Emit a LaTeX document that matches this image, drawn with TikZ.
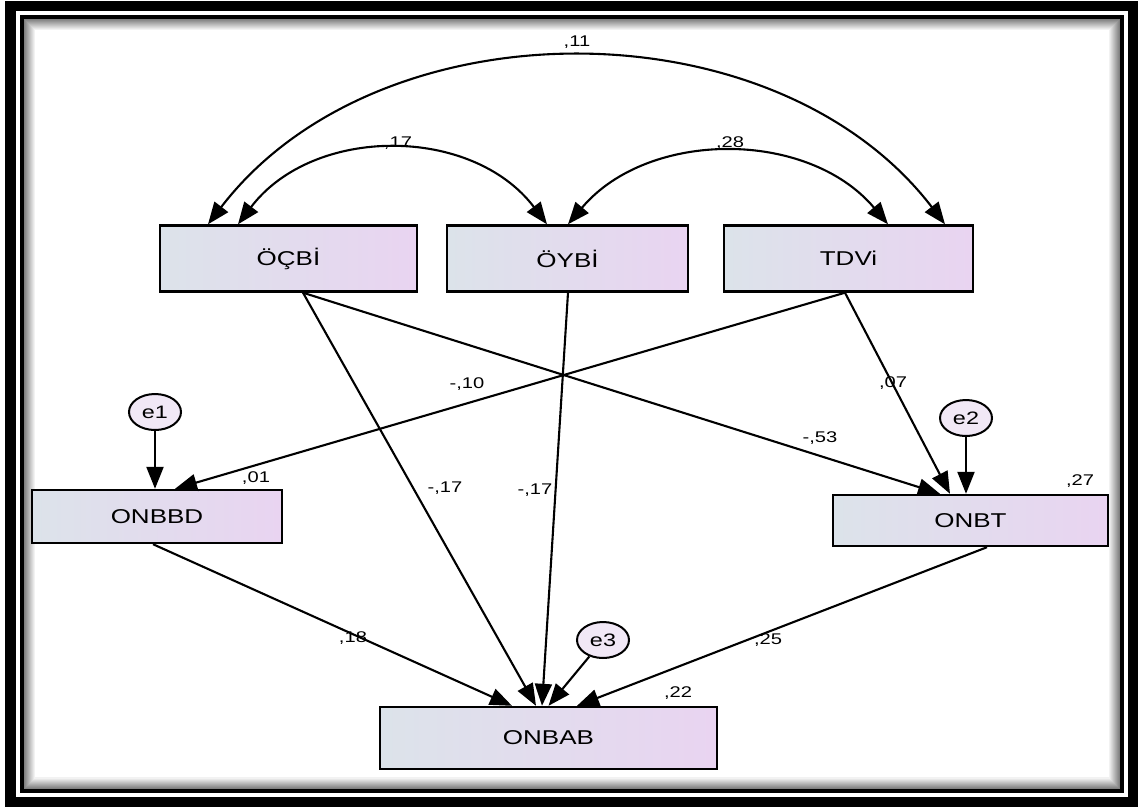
\documentclass[tikz,border=0pt]{standalone}
\usepackage{fontspec}
\usepackage{graphicx}
\setmainfont{Liberation Sans}
\newcommand{\widetxt}[1]{\scalebox{1.3}[1]{#1}}
\usetikzlibrary{arrows.meta,shapes.geometric}
\definecolor{boxL}{HTML}{DCE3EA}
\definecolor{boxR}{HTML}{E9D4F1}
\definecolor{errF}{HTML}{F1E8F6}
\begin{document}
\begin{tikzpicture}[x=1pt,y=-1pt,
  box/.style={draw=black, line width=2.4pt, left color=boxL, right color=boxR,
    font=\fontsize{20}{24}\selectfont, inner sep=0},
  err/.style={ellipse, draw=black, line width=2pt, fill=errF, minimum width=52,
    minimum height=36, inner sep=0, font=\fontsize{18}{21}\selectfont},
  lbl/.style={font=\fontsize{15.5}{18}\selectfont, inner sep=0},
  arr/.style={line width=2.1pt, -{Triangle[length=22pt,width=17pt]}},
  cov/.style={line width=2.1pt, {Triangle[length=22pt,width=17pt]}-{Triangle[length=22pt,width=17pt]}}]
\useasboundingbox (0,0) rectangle (1138,807);
\fill[white] (0,0) rectangle (1138,807);
% frame
\draw[black, line width=10.5pt] (10.5,6) rectangle (1133,802);
\draw[black, line width=4pt] (22,17) rectangle (1122,790.5);
\foreach \i in {0,...,10}{
  \pgfmathsetmacro\g{50-4.5*\i}
  \draw[black!\g, line width=1.1pt] (24.5+\i,19.5+\i) rectangle (1119.5-\i,788-\i);
}
% boxes
\node[box, minimum width=257, minimum height=66] (ocbi) at (288.5,258.5) {\widetxt{ÖÇBİ}};
\node[box, minimum width=241, minimum height=66] (oybi) at (567.5,258.5) {\widetxt{ÖYBİ}};
\node[box, minimum width=249, minimum height=66] (tdvi) at (848.5,258.5) {\widetxt{TDVi}};
\node[box, minimum width=250, minimum height=53] (onbbd) at (157,516.5) {\widetxt{ONBBD}};
\node[box, minimum width=275, minimum height=51] (onbt) at (970.5,520.5) {\widetxt{ONBT}};
\node[box, minimum width=337, minimum height=62] (onbab) at (548.5,738) {\widetxt{ONBAB}};
% error terms
\node[err] (e1) at (155,412) {\widetxt{e1}};
\node[err] (e2) at (966,418) {\widetxt{e2}};
\node[err] (e3) at (603,640) {\widetxt{e3}};
% covariances
\draw[cov] ([xshift=-80.5pt]ocbi.north) .. controls +(170,-222) and +(-170,-222) .. ([xshift=96.5pt]tdvi.north);
\draw[cov] ([xshift=-50.5pt]ocbi.north) .. controls +(75,-99) and +(-75,-99) .. ([xshift=-20.5pt]oybi.north);
\draw[cov] ([xshift=0.5pt]oybi.north) .. controls +(80,-95) and +(-80,-95) .. ([xshift=39.5pt]tdvi.north);
% regression paths
\draw[arr] ([xshift=14.5pt]ocbi.south) -- ([xshift=-12.5pt]onbab.north);
\draw[arr] ([xshift=14.5pt]ocbi.south) -- ([xshift=-30.5pt]onbt.north);
\draw[arr] ([xshift=0.5pt]oybi.south) -- ([xshift=-6.5pt]onbab.north);
\draw[arr] ([xshift=-3.5pt]tdvi.south) -- ([xshift=18pt]onbbd.north);
\draw[arr] ([xshift=-3.5pt]tdvi.south) -- ([xshift=-20.5pt]onbt.north);
\draw[arr] (e1) -- (e1 |- onbbd.north);
\draw[arr] (e2) -- (e2 |- onbt.north);
\draw[arr] (e3) -- ([xshift=0pt]onbab.north);
\draw[arr] ([xshift=-4pt]onbbd.south) -- ([xshift=-36.5pt]onbab.north);
\draw[arr] ([xshift=16.5pt]onbt.south) -- ([xshift=28.5pt]onbab.north);
% labels
\node[lbl] (l11) at (577,42) {\widetxt{,11}};
\node[lbl] (l17) at (398,143) {\widetxt{,17}};
\node[lbl] (l28) at (730,143) {\widetxt{,28}};
\node[lbl] (l10) at (467,384) {\widetxt{-,10}};
\node[lbl] (l07) at (893,383) {\widetxt{,07}};
\node[lbl] (l53) at (820,438) {\widetxt{-,53}};
\node[lbl] (l01) at (256,478) {\widetxt{,01}};
\node[lbl] (l27) at (1080,481) {\widetxt{,27}};
\node[lbl] (l17a) at (445,488) {\widetxt{-,17}};
\node[lbl] (l17b) at (535,490) {\widetxt{-,17}};
\node[lbl] (l18) at (353,638) {\widetxt{,18}};
\node[lbl] (l25) at (768,640) {\widetxt{,25}};
\node[lbl] (l22) at (678,693) {\widetxt{,22}};
\end{tikzpicture}
\end{document}
